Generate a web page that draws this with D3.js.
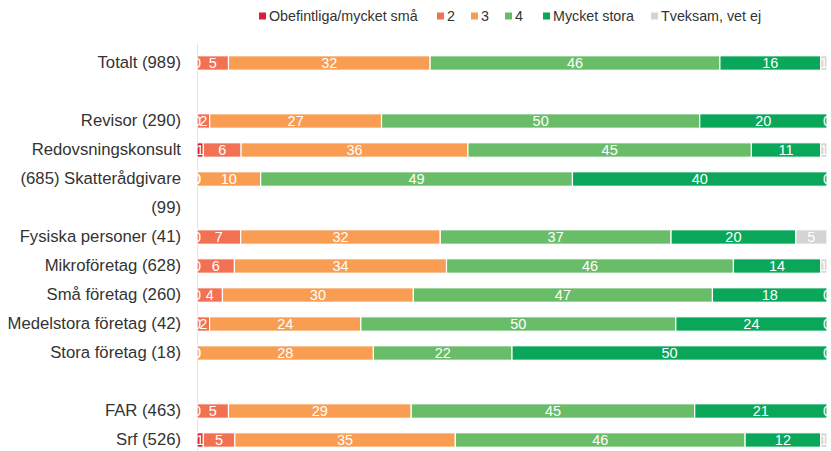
<!DOCTYPE html>
<html>
<head>
<meta charset="utf-8">
<script src="https://cdn.jsdelivr.net/npm/d3@7"></script>
<style>
  html, body { margin: 0; padding: 0; background: #fff; }
  svg { display: block; font-family: "Liberation Sans", Arial, sans-serif; }
</style>
</head>
<body>
<svg id="chart" width="831" height="451"></svg>
<script>
// Row labels as they appear (blank rows are spacers)
const rowLabels = [
  "Totalt (989)", "", "Revisor (290)", "Redovsningskonsult", "(685) Skatterådgivare",
  "(99)", "Fysiska personer (41)", "Mikroföretag (628)", "Små företag (260)",
  "Medelstora företag (42)", "Stora företag (18)", "", "FAR (463)", "Srf (526)"
];
const seriesNames = ["Obefintliga/mycket små", "2", "3", "4", "Mycket stora", "Tveksam, vet ej"];
const seriesColors = ["#dc1e3c", "#f27152", "#f89d52", "#69bd69", "#0aa75b", "#d4d4d4"];

// Values per series (percent), null for spacer rows
const obefintliga = [0, null, 0, 1, 0, null, 0, 0, 0, 0, 0, null, 0, 1];
const s2          = [5, null, 2, 6, 0, null, 7, 6, 4, 2, 0, null, 5, 5];
const s3          = [32, null, 27, 36, 10, null, 32, 34, 30, 24, 28, null, 29, 35];
const s4          = [46, null, 50, 45, 49, null, 37, 46, 47, 50, 22, null, 45, 46];
const mycketStora = [16, null, 20, 11, 40, null, 20, 14, 18, 24, 50, null, 21, 12];
const tveksam     = [1, null, 0, 1, 0, null, 5, 1, 0, 0, 0, null, 0, 1];

const seriesValues = [obefintliga, s2, s3, s4, mycketStora, tveksam];

const svg = d3.select("#chart");
const margin = { left: 197, top: 48.5 };
const plotRight = 827;
const height = 451;

const rows = rowLabels.map((lab, i) => {
  const o = { i, label: lab, blank: seriesValues[0][i] === null };
  seriesNames.forEach((s, k) => { o[s] = seriesValues[k][i] || 0; });
  return o;
});

const y = d3.scaleBand().domain(rows.map(d => d.i)).range([margin.top, margin.top + 29 * rows.length]).paddingInner(0.5).paddingOuter(0.25);
const x = d3.scaleLinear().domain([0, 1]).range([margin.left, plotRight]);
const color = d3.scaleOrdinal().domain(seriesNames).range(seriesColors);

const stack = d3.stack().keys(seriesNames).offset(d3.stackOffsetExpand);
const stacked = stack(rows.filter(d => !d.blank));

// axis line
svg.append("line")
  .attr("x1", margin.left + 0.5).attr("x2", margin.left + 0.5)
  .attr("y1", 44).attr("y2", height)
  .attr("stroke", "#e4e4e4").attr("stroke-width", 1);

// clip
svg.append("defs").append("clipPath").attr("id", "plotclip")
  .append("rect").attr("x", margin.left).attr("y", 0).attr("width", 632).attr("height", height);

const g = svg.append("g").attr("clip-path", "url(#plotclip)");

const layers = g.selectAll("g.layer").data(stacked).join("g").attr("class", "layer")
  .attr("fill", d => color(d.key));

layers.selectAll("rect").data(d => d).join("rect")
  .attr("x", d => x(d[0]))
  .attr("y", d => y(d.data.i))
  .attr("width", d => Math.max(0, x(d[1]) - x(d[0])))
  .attr("height", y.bandwidth())
  .attr("stroke", "#fff").attr("stroke-width", 1.2);

// value labels
stacked.forEach(layer => {
  g.selectAll(null).data(layer).join("text")
    .attr("x", d => (x(d[0]) + x(d[1])) / 2)
    .attr("y", d => y(d.data.i) + y.bandwidth() / 2)
    .attr("dy", "0.36em")
    .attr("text-anchor", "middle")
    .attr("fill", "#fff")
    .attr("font-size", 14.5)
    .text(d => d.data[layer.key]);
});

// row labels
const yAxis = d3.axisLeft(y).tickSize(0).tickPadding(16).tickFormat(i => rowLabels[i]);
const ya = svg.append("g").attr("transform", `translate(${margin.left},0)`).call(yAxis);
ya.select(".domain").remove();
ya.selectAll("text").attr("font-size", 16.7).attr("fill", "#333").attr("font-family", "Liberation Sans, Arial, sans-serif");

// legend
const legendX = [259, 437, 471, 505, 543, 651];
const lg = svg.append("g");
seriesNames.forEach((s, k) => {
  const item = lg.append("g").attr("transform", `translate(${legendX[k]},16)`);
  item.append("rect").attr("x", 0).attr("y", -3.5).attr("width", 7).attr("height", 7).attr("fill", seriesColors[k]);
  item.append("text").attr("x", 10).attr("dy", "0.35em").attr("font-size", 14.3).attr("fill", "#333").text(s);
});
</script>
</body>
</html>
